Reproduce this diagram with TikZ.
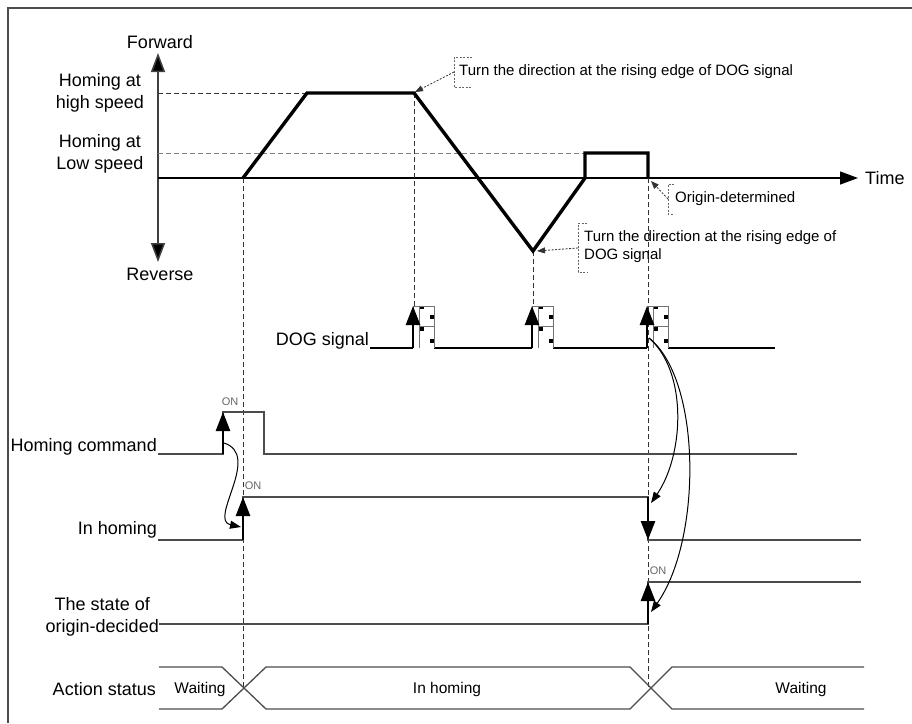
\documentclass[tikz,border=0pt]{standalone}
\usepackage{fontspec}
\setmainfont{Liberation Sans}
\usetikzlibrary{arrows.meta}
\begin{document}
\begin{tikzpicture}[x=1pt,y=-1pt,
  lbl/.style={font=\fontsize{18}{22}\selectfont, inner sep=0pt},
  note/.style={font=\fontsize{15}{18}\selectfont, inner sep=0pt, align=left, anchor=west},
  onl/.style={font=\fontsize{11}{12}\selectfont, text=black!60, inner sep=0pt},
  stat/.style={font=\fontsize{15.5}{17}\selectfont, inner sep=0pt},
  prof/.style={line width=3.4pt, line join=miter},
  sig/.style={black!70, line width=1.3pt},
  guide/.style={dash pattern=on 5pt off 3pt, line width=1pt, black!80},
  bigarr/.style={line width=2.6pt, -{Triangle[length=19pt,width=14pt]}},
  curv/.style={line width=1pt, -{Triangle[length=11pt,width=8pt]}},
  lead/.style={dash pattern=on 2pt off 1.5pt, line width=0.8pt, black!80, -{Triangle[length=8pt,width=6pt]}},
  brk/.style={dash pattern=on 2pt off 1.5pt, black!60, line width=0.8pt},
  pulse/.style={black!55, line width=0.9pt},
]
\useasboundingbox (0,0) rectangle (912,723);
\fill[white] (0,0) rectangle (912,723);
% frame
\draw[line width=1.2pt, black!70] (8,723) -- (8,8) -- (912,8);

% ---------- speed axes ----------
\coordinate (vtop) at (158,53);
\coordinate (vbot) at (158,262);
\coordinate (orig) at (158,178);
\coordinate (tend) at (858,178);
\draw[line width=1.5pt, black!75, {Triangle[length=19pt,width=14pt,fill=black]}-{Triangle[length=19pt,width=14pt,fill=black]}] (vbot) -- (vtop);
\draw[line width=1.3pt, -{Triangle[length=18pt,width=13pt]}] (orig) -- (tend);
\node[lbl, anchor=west] (time) at (865,178) {Time};

\node[lbl] (fwd) at (160,42) {Forward};
\node[lbl, align=center] (hi) at (100,93) {Homing at\\high speed};
\node[lbl, align=center] (lo) at (100,154) {Homing at\\Low speed};
\node[lbl] (rev) at (160,274) {Reverse};

% speed level guides
\coordinate (p1) at (243,178);
\coordinate (p2) at (307,93);
\coordinate (p3) at (414,93);
\coordinate (p4) at (533,251);
\coordinate (p5) at (585,178);
\coordinate (p6) at (585,153);
\coordinate (p7) at (648,153);
\coordinate (p8) at (648,178);
\draw[guide] (158,93) -- (p2);
\draw[guide, black!50] (158,153) -- (p6);

% vertical guides
\draw[guide] (p1) -- (243,689);
\draw[guide] (p3) -- (414,306);
\draw[guide] (p4) -- (533,306);
\draw[guide] (p8) -- (648,689);

% velocity profile
\draw[prof] (p1) -- (p2) -- (p3) -- (p4) -- (p5) -- (p6) -- (p7) -- (p8);

% annotations
\draw[brk] (472,57) -- (454,57) -- (454,87) -- (472,87);
\node[note] (n1) at (459,72) {Turn the direction at the rising edge of DOG signal};
\coordinate (n1a) at (454,72);
\draw[lead] (n1a) -- (415,92);

\draw[brk] (674,184) -- (668,184) -- (668,214) -- (674,214);
\node[note] (n2) at (675,199) {Origin-determined};
\coordinate (n2a) at (668,199);
\draw[lead] (n2a) -- (651,181);

\draw[brk] (587,223) -- (578,223) -- (578,272) -- (587,272);
\node[note] (n3) at (584,247) {Turn the direction at the rising edge of\\DOG signal};
\coordinate (n3a) at (578,248);
\draw[lead] (n3a) -- (537,251);

% ---------- DOG signal ----------
\node[lbl, anchor=base east] (dog) at (369,345) {DOG signal};
\draw[line width=1.3pt] (370,348) -- (413,348) (434,348) -- (532,348) (553,348) -- (647,348) (668,348) -- (775,348);
\foreach \px in {413,532,647}{
  \draw[pulse] (\px,348) -- (\px,306) -- (\px+21,306) -- (\px+21,348);
  \draw[pulse] (\px+6,306) -- (\px+6,348);
  \draw[pulse] (\px+6,326) -- (\px+21,326);
  \fill (\px+7,306.5) rectangle +(4,2.5);
  \fill (\px+17,315) rectangle +(4,4);
  \fill (\px+7,327) rectangle +(4,4);
  \fill (\px+17,339) rectangle +(4,4);
  \draw[bigarr] (\px,348) -- (\px,306);
}
\coordinate (dogc) at (649,338);

% ---------- Homing command ----------
\node[lbl, anchor=east] (hc) at (157,447) {Homing command};
\draw[sig] (158,454) -- (223,454) -- (223,412) -- (264,412) -- (264,454) -- (797,454);
\coordinate (hcr0) at (223,454);
\coordinate (hcr1) at (223,412);
\draw[bigarr] (hcr0) -- (hcr1);
\node[onl] (on1) at (230,402) {ON};

% ---------- In homing ----------
\node[lbl, anchor=east] (ih) at (157,530) {In homing};
\draw[sig] (158,540) -- (243,540) -- (243,497) -- (648,497) -- (648,540) -- (861,540);
\coordinate (ihr0) at (243,540);
\coordinate (ihr1) at (243,497);
\coordinate (ihf0) at (648,497);
\coordinate (ihf1) at (648,540);
\draw[bigarr] (ihr0) -- (ihr1);
\draw[bigarr] (ihf0) -- (ihf1);
\node[onl] (on2) at (253,486) {ON};

% ---------- origin decided ----------
\node[lbl, anchor=east, align=center] (od) at (159,617) {The state of\\origin-decided};
\draw[sig] (159,624) -- (648,624) -- (648,582) -- (861,582);
\coordinate (odr0) at (648,624);
\coordinate (odr1) at (648,582);
\draw[bigarr] (odr0) -- (odr1);
\node[onl] (on3) at (658,571) {ON};

% ---------- causal curves ----------
\coordinate (ca) at (224,443);
\coordinate (cb) at (241,527);
\draw[curv] (ca) .. controls (262,455) and (208,520) .. (cb);
\coordinate (cc) at (651,503);
\coordinate (cd) at (651,612);
\draw[curv] (dogc) .. controls (688,372) and (684,455) .. (cc);
\draw[curv] (dogc) .. controls (702,380) and (702,540) .. (cd);

% ---------- Action status ----------
\node[lbl, anchor=east] (as) at (156,689) {Action status};
\draw[sig] (159,667) -- (222,667) -- (266,709) -- (630,709) -- (672,667) -- (864,667);
\draw[sig] (159,709) -- (222,709) -- (266,667) -- (630,667) -- (672,709) -- (864,709);
\node[stat] (w1) at (200,689) {Waiting};
\node[stat] (w2) at (447,689) {In homing};
\node[stat] (w3) at (801,689) {Waiting};
\end{tikzpicture}
\end{document}
